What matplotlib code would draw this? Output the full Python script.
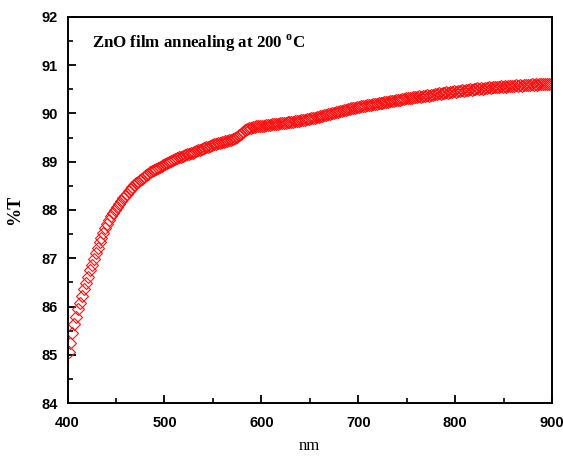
import numpy as np
import matplotlib
matplotlib.use("Agg")
import matplotlib.pyplot as plt
from matplotlib.ticker import MultipleLocator

# wavelengths (nm), sampled every 2 nm from 401 to 899
wavelength_start = 401
wavelength_step = 2

transmittance = [
    85.05, 85.25, 85.45, 85.63, 85.79, 85.94, 86.08, 86.22, 86.36, 86.49,
    86.62, 86.75, 86.87, 86.99, 87.11, 87.22, 87.33, 87.43, 87.53, 87.62,
    87.71, 87.79, 87.87, 87.94, 88.01, 88.07, 88.13, 88.19, 88.24, 88.29,
    88.34, 88.39, 88.43, 88.47, 88.51, 88.55, 88.59, 88.62, 88.65, 88.69,
    88.72, 88.75, 88.78, 88.80, 88.83, 88.85, 88.88, 88.90, 88.92, 88.94,
    88.96, 88.98, 89.00, 89.02, 89.04, 89.06, 89.07, 89.09, 89.10, 89.12,
    89.13, 89.15, 89.16, 89.18, 89.19, 89.21, 89.22, 89.24, 89.25, 89.27,
    89.28, 89.30, 89.31, 89.33, 89.34, 89.36, 89.37, 89.38, 89.39, 89.40,
    89.41, 89.42, 89.43, 89.44, 89.45, 89.47, 89.49, 89.52, 89.55, 89.58,
    89.62, 89.65, 89.67, 89.69, 89.70, 89.71, 89.72, 89.73, 89.73, 89.74,
    89.75, 89.75, 89.76, 89.77, 89.77, 89.78, 89.78, 89.79, 89.79, 89.80,
    89.80, 89.81, 89.81, 89.82, 89.82, 89.83, 89.83, 89.84, 89.84, 89.85,
    89.86, 89.87, 89.87, 89.88, 89.89, 89.90, 89.90, 89.91, 89.92, 89.93,
    89.94, 89.95, 89.96, 89.97, 89.98, 89.99, 90.00, 90.01, 90.03, 90.04,
    90.05, 90.06, 90.07, 90.08, 90.09, 90.10, 90.11, 90.12, 90.12, 90.13,
    90.14, 90.15, 90.16, 90.16, 90.17, 90.18, 90.18, 90.19, 90.20, 90.20,
    90.21, 90.22, 90.22, 90.23, 90.24, 90.24, 90.25, 90.26, 90.26, 90.27,
    90.27, 90.28, 90.29, 90.30, 90.31, 90.32, 90.33, 90.33, 90.34, 90.34,
    90.35, 90.36, 90.35, 90.37, 90.36, 90.38, 90.37, 90.39, 90.38, 90.40,
    90.40, 90.42, 90.41, 90.43, 90.42, 90.44, 90.43, 90.45, 90.44, 90.46,
    90.45, 90.47, 90.46, 90.48, 90.47, 90.49, 90.48, 90.50, 90.49, 90.51,
    90.50, 90.52, 90.51, 90.52, 90.51, 90.53, 90.52, 90.54, 90.53, 90.54,
    90.54, 90.55, 90.54, 90.56, 90.55, 90.56, 90.55, 90.57, 90.56, 90.57,
    90.56, 90.58, 90.57, 90.58, 90.57, 90.59, 90.58, 90.59, 90.58, 90.60,
    90.59, 90.60, 90.59, 90.61, 90.60, 90.61, 90.60, 90.62, 90.61, 90.62,
]
wavelength = wavelength_start + wavelength_step * np.arange(len(transmittance))

x_ticks = [400, 500, 600, 700, 800, 900]
y_ticks = [84, 85, 86, 87, 88, 89, 90, 91, 92]
title_text = "ZnO film annealing at 200 "
x_label = "nm"
y_label = "%T"

plt.rcParams["mathtext.fontset"] = "custom"
plt.rcParams["mathtext.bf"] = "Liberation Serif:bold"
plt.rcParams["mathtext.rm"] = "Liberation Serif"

fig = plt.figure(figsize=(5.63, 4.57), dpi=100)
ax = fig.add_axes([0.12, 0.118, 0.8605, 0.845])

ax.plot(wavelength, transmittance, linestyle="none", marker="D",
        markersize=6, markerfacecolor="none", markeredgecolor="#ff1010",
        markeredgewidth=0.8)

ax.set_xlim(400, 900)
ax.set_ylim(84, 92)
ax.set_xticks(x_ticks)
ax.set_yticks(y_ticks)
ax.xaxis.set_minor_locator(MultipleLocator(50))
ax.yaxis.set_minor_locator(MultipleLocator(0.5))
ax.tick_params(which="major", direction="in", length=6, width=1.3,
               labelsize=10.5, pad=7)
ax.tick_params(which="minor", direction="in", length=3.5, width=1.2)
ax.tick_params(axis="x", pad=9)
for lab in ax.get_xticklabels() + ax.get_yticklabels():
    lab.set_fontfamily("Liberation Sans")
    lab.set_fontweight("bold")
for s in ax.spines.values():
    s.set_linewidth(1.4)

ax.text(425, 91.45, title_text + r"$^{\mathbf{o}}$C", fontfamily="Liberation Serif",
        fontweight="bold", fontsize=12.2, va="center", ha="left")
ax.set_xlabel(x_label, fontfamily="Liberation Serif", fontsize=12, labelpad=6)
ax.set_ylabel(y_label, fontfamily="Liberation Serif", fontweight="bold",
              fontsize=13, labelpad=13)

fig.savefig("out.png", dpi=100)
